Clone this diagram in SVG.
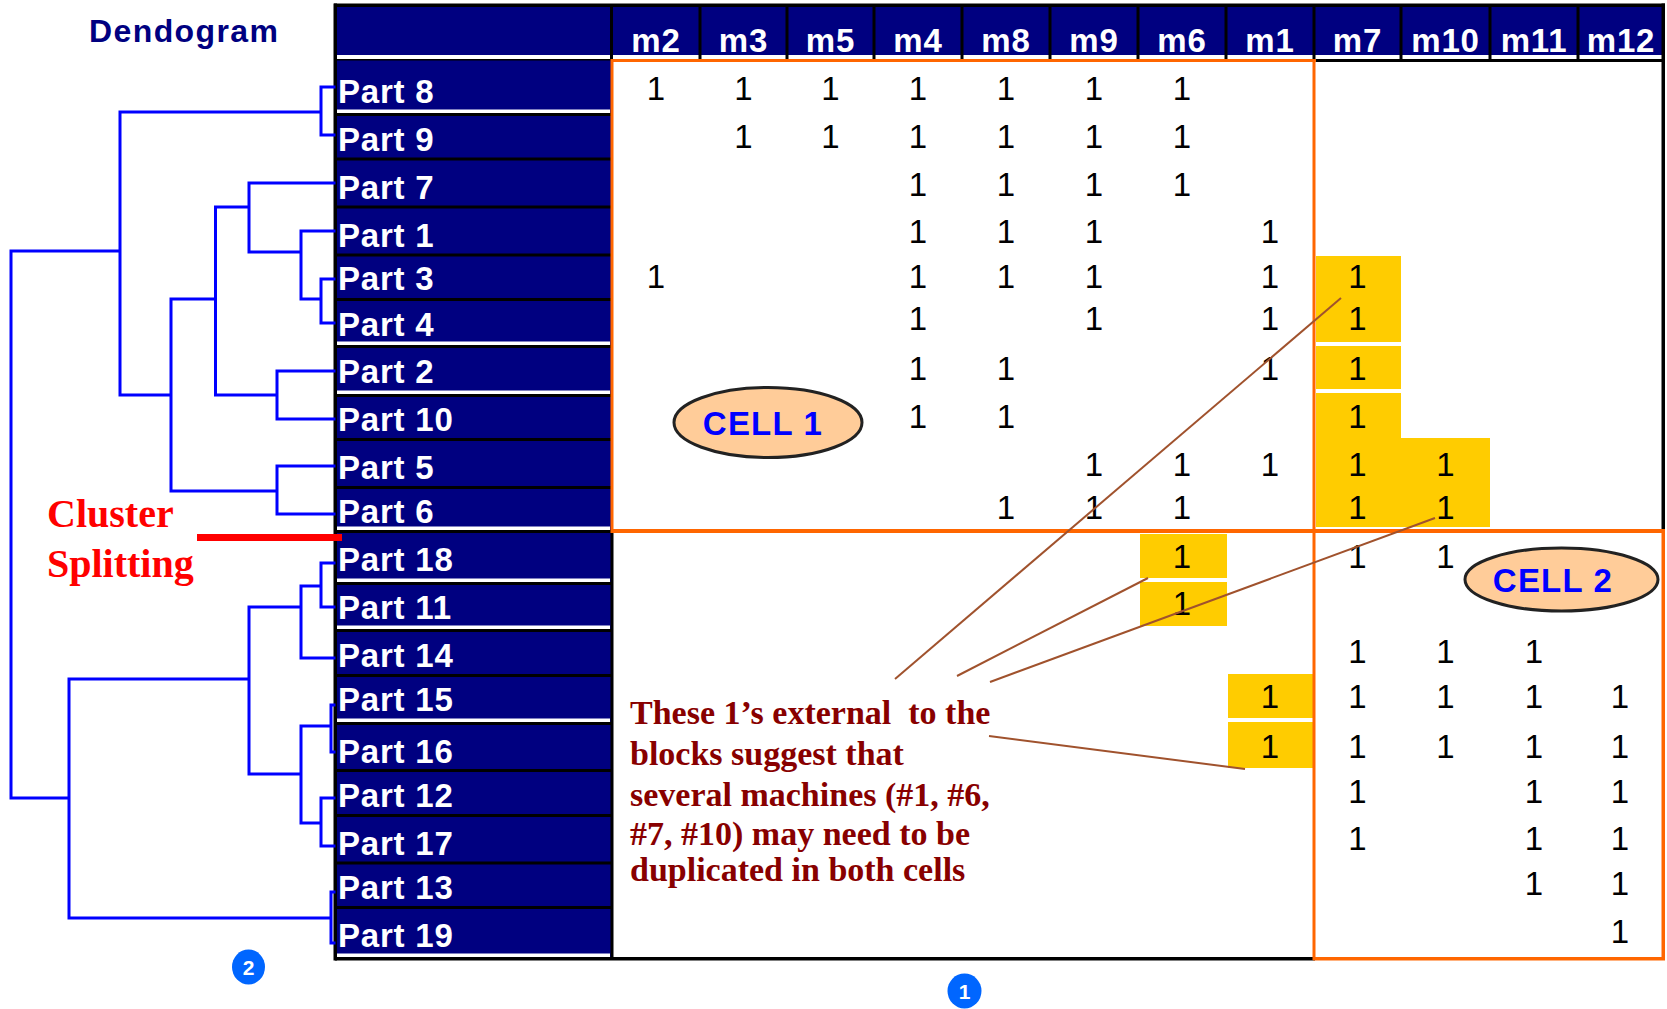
<svg xmlns="http://www.w3.org/2000/svg" width="1667" height="1009" viewBox="0 0 1667 1009">
<defs>
<style>
.navy{fill:#000080}
.lbl{font-family:"Liberation Sans",Arial,sans-serif;font-weight:bold;font-size:33px;fill:#fff;letter-spacing:0.8px}
.hd{font-family:"Liberation Sans",Arial,sans-serif;font-weight:bold;font-size:33px;fill:#fff;letter-spacing:0.8px;text-anchor:middle}
.one{font-family:"Liberation Sans",Arial,sans-serif;font-size:33px;fill:#000;text-anchor:middle}
.blk{fill:#000}
.wht{fill:#fff}
.yel{fill:#FFCC00}
.org{fill:#FF6600}
.dend{stroke:#0000FF;stroke-width:3;fill:none;stroke-linecap:square}
.note{font-family:"Liberation Serif","Times New Roman",serif;font-weight:bold;font-size:34px;fill:#880000;white-space:pre}
.leader{stroke:#A0522D;stroke-width:2;fill:none}
.cell{fill:#FFCC99;stroke:#222;stroke-width:3}
.celltxt{font-family:"Liberation Sans",Arial,sans-serif;font-weight:bold;font-size:33px;fill:#0000FF;letter-spacing:1.2px;text-anchor:middle}
.badge{fill:#0066FF}
.badgetxt{font-family:"Liberation Sans",Arial,sans-serif;font-weight:bold;font-size:21px;fill:#fff;text-anchor:middle}
</style>
</defs>
<rect x="0" y="0" width="1667" height="1009" fill="#fff"/>

<g id="title">
<text x="89" y="41.5" font-family="Liberation Sans, Arial, sans-serif" font-weight="bold" font-size="32" fill="#000080" letter-spacing="1.4">Dendogram</text>
</g>

<g id="header">
<rect class="navy" x="335" y="5" width="1329" height="55"/>
<rect class="wht" x="337" y="55" width="1325" height="4"/>
<rect class="blk" x="334" y="3.5" width="1331" height="3.5"/>
<rect class="blk" x="335" y="59" width="278" height="3"/>
<rect class="blk" x="1314" y="59" width="350" height="3"/>
<rect class="blk" x="610" y="5" width="3" height="55"/>
<rect class="blk" x="698.5" y="5" width="3" height="57"/>
<rect class="blk" x="785.5" y="5" width="3" height="57"/>
<rect class="blk" x="872.5" y="5" width="3" height="57"/>
<rect class="blk" x="960.5" y="5" width="3" height="57"/>
<rect class="blk" x="1048.5" y="5" width="3" height="57"/>
<rect class="blk" x="1136.5" y="5" width="3" height="57"/>
<rect class="blk" x="1224.5" y="5" width="3" height="57"/>
<rect class="blk" x="1312.5" y="5" width="3" height="57"/>
<rect class="blk" x="1399.5" y="5" width="3" height="57"/>
<rect class="blk" x="1488.5" y="5" width="3" height="57"/>
<rect class="blk" x="1576.5" y="5" width="3" height="57"/>
<text class="hd" x="656" y="51.5">m2</text>
<text class="hd" x="743.5" y="51.5">m3</text>
<text class="hd" x="830.5" y="51.5">m5</text>
<text class="hd" x="918" y="51.5">m4</text>
<text class="hd" x="1006" y="51.5">m8</text>
<text class="hd" x="1094" y="51.5">m9</text>
<text class="hd" x="1182" y="51.5">m6</text>
<text class="hd" x="1270" y="51.5">m1</text>
<text class="hd" x="1357.5" y="51.5">m7</text>
<text class="hd" x="1445.5" y="51.5">m10</text>
<text class="hd" x="1534" y="51.5">m11</text>
<text class="hd" x="1621" y="51.5">m12</text>
</g>

<g id="part-rows">
<g id="part8"><rect class="navy" x="335" y="60.5" width="277" height="54"/><text class="lbl" x="338" y="102.7">Part 8</text></g>
<g id="part9"><rect class="navy" x="335" y="114.5" width="277" height="44.5"/><text class="lbl" x="338" y="150.7">Part 9</text></g>
<g id="part7"><rect class="navy" x="335" y="159" width="277" height="48"/><text class="lbl" x="338" y="199">Part 7</text></g>
<g id="part1"><rect class="navy" x="335" y="207" width="277" height="48"/><text class="lbl" x="338" y="246.7">Part 1</text></g>
<g id="part3"><rect class="navy" x="335" y="255" width="277" height="44.5"/><text class="lbl" x="338" y="290">Part 3</text></g>
<g id="part4"><rect class="navy" x="335" y="299.5" width="277" height="47"/><text class="lbl" x="338" y="335.7">Part 4</text></g>
<g id="part2"><rect class="navy" x="335" y="346.5" width="277" height="49"/><text class="lbl" x="338" y="382.7">Part 2</text></g>
<g id="part10"><rect class="navy" x="335" y="395.5" width="277" height="44"/><text class="lbl" x="338" y="430.7">Part 10</text></g>
<g id="part5"><rect class="navy" x="335" y="439.5" width="277" height="48"/><text class="lbl" x="338" y="479">Part 5</text></g>
<g id="part6"><rect class="navy" x="335" y="487.5" width="277" height="44"/><text class="lbl" x="338" y="523.3">Part 6</text></g>
<g id="part18"><rect class="navy" x="335" y="531.5" width="277" height="52"/><text class="lbl" x="338" y="571">Part 18</text></g>
<g id="part11"><rect class="navy" x="335" y="583.5" width="277" height="47"/><text class="lbl" x="338" y="619">Part 11</text></g>
<g id="part14"><rect class="navy" x="335" y="630.5" width="277" height="45"/><text class="lbl" x="338" y="666.7">Part 14</text></g>
<g id="part15"><rect class="navy" x="335" y="675.5" width="277" height="48"/><text class="lbl" x="338" y="711">Part 15</text></g>
<g id="part16"><rect class="navy" x="335" y="723.5" width="277" height="47"/><text class="lbl" x="338" y="763.3">Part 16</text></g>
<g id="part12"><rect class="navy" x="335" y="770.5" width="277" height="45"/><text class="lbl" x="338" y="806.7">Part 12</text></g>
<g id="part17"><rect class="navy" x="335" y="815.5" width="277" height="47.5"/><text class="lbl" x="338" y="855">Part 17</text></g>
<g id="part13"><rect class="navy" x="335" y="863" width="277" height="44.5"/><text class="lbl" x="338" y="899">Part 13</text></g>
<g id="part19"><rect class="navy" x="335" y="907.5" width="277" height="51"/><text class="lbl" x="338" y="947.3">Part 19</text></g>
</g>

<g id="row-separators">
<rect class="wht" x="337" y="109.5" width="273" height="3.5"/><rect class="blk" x="335" y="113" width="277" height="3"/>
<rect class="blk" x="335" y="157.5" width="277" height="3"/>
<rect class="blk" x="335" y="205.5" width="277" height="3"/>
<rect class="blk" x="335" y="253.5" width="277" height="3"/>
<rect class="blk" x="335" y="298" width="277" height="3"/>
<rect class="wht" x="337" y="341.5" width="273" height="3.5"/><rect class="blk" x="335" y="345" width="277" height="3"/>
<rect class="wht" x="337" y="390.5" width="273" height="3.5"/><rect class="blk" x="335" y="394" width="277" height="3"/>
<rect class="blk" x="335" y="438" width="277" height="3"/>
<rect class="blk" x="335" y="486" width="277" height="3"/>
<rect class="wht" x="337" y="526.5" width="273" height="3.5"/><rect class="blk" x="335" y="530" width="277" height="3"/>
<rect class="wht" x="337" y="578.5" width="273" height="3.5"/><rect class="blk" x="335" y="582" width="277" height="3"/>
<rect class="wht" x="337" y="625.5" width="273" height="3.5"/><rect class="blk" x="335" y="629" width="277" height="3"/>
<rect class="blk" x="335" y="674" width="277" height="3"/>
<rect class="wht" x="337" y="718.5" width="273" height="3.5"/><rect class="blk" x="335" y="722" width="277" height="3"/>
<rect class="blk" x="335" y="769" width="277" height="3"/>
<rect class="blk" x="335" y="814" width="277" height="3"/>
<rect class="blk" x="335" y="861.5" width="277" height="3"/>
<rect class="blk" x="335" y="906" width="277" height="3"/>
<rect class="wht" x="337" y="953.5" width="273" height="3.5"/>
<rect class="blk" x="333.5" y="3.5" width="3.5" height="957"/>
<rect class="blk" x="335" y="957" width="980" height="3.5"/>
<rect class="blk" x="610.5" y="531" width="3" height="428"/>
<rect class="blk" x="1661.5" y="3.5" width="3.5" height="528"/>
</g>

<g id="highlights">
<rect class="yel" x="1316" y="256" width="85" height="86"/>
<rect class="yel" x="1316" y="346" width="85" height="43"/>
<rect class="yel" x="1316" y="393" width="85" height="134"/>
<rect class="yel" x="1401" y="438" width="89" height="89"/>
<rect class="yel" x="1140" y="534" width="87" height="44"/>
<rect class="yel" x="1140" y="582" width="87" height="44"/>
<rect class="yel" x="1228" y="674" width="86" height="44"/>
<rect class="yel" x="1228" y="722" width="86" height="46"/>
</g>

<g id="matrix">
<text class="one" x="656" y="100">1</text><text class="one" x="743.5" y="100">1</text><text class="one" x="830.5" y="100">1</text><text class="one" x="918" y="100">1</text><text class="one" x="1006" y="100">1</text><text class="one" x="1094" y="100">1</text><text class="one" x="1182" y="100">1</text>
<text class="one" x="743.5" y="148">1</text><text class="one" x="830.5" y="148">1</text><text class="one" x="918" y="148">1</text><text class="one" x="1006" y="148">1</text><text class="one" x="1094" y="148">1</text><text class="one" x="1182" y="148">1</text>
<text class="one" x="918" y="196">1</text><text class="one" x="1006" y="196">1</text><text class="one" x="1094" y="196">1</text><text class="one" x="1182" y="196">1</text>
<text class="one" x="918" y="243">1</text><text class="one" x="1006" y="243">1</text><text class="one" x="1094" y="243">1</text><text class="one" x="1270" y="243">1</text>
<text class="one" x="656" y="288">1</text><text class="one" x="918" y="288">1</text><text class="one" x="1006" y="288">1</text><text class="one" x="1094" y="288">1</text><text class="one" x="1270" y="288">1</text><text class="one" x="1357.5" y="288">1</text>
<text class="one" x="918" y="330">1</text><text class="one" x="1094" y="330">1</text><text class="one" x="1270" y="330">1</text><text class="one" x="1357.5" y="330">1</text>
<text class="one" x="918" y="380">1</text><text class="one" x="1006" y="380">1</text><text class="one" x="1270" y="380">1</text><text class="one" x="1357.5" y="380">1</text>
<text class="one" x="918" y="428">1</text><text class="one" x="1006" y="428">1</text><text class="one" x="1357.5" y="428">1</text>
<text class="one" x="1094" y="476">1</text><text class="one" x="1182" y="476">1</text><text class="one" x="1270" y="476">1</text><text class="one" x="1357.5" y="476">1</text><text class="one" x="1445.5" y="476">1</text>
<text class="one" x="1006" y="519">1</text><text class="one" x="1094" y="519">1</text><text class="one" x="1182" y="519">1</text><text class="one" x="1357.5" y="519">1</text><text class="one" x="1445.5" y="519">1</text>
<text class="one" x="1182" y="568">1</text><text class="one" x="1357.5" y="568">1</text><text class="one" x="1445.5" y="568">1</text>
<text class="one" x="1182" y="615">1</text>
<text class="one" x="1357.5" y="663">1</text><text class="one" x="1445.5" y="663">1</text><text class="one" x="1534" y="663">1</text>
<text class="one" x="1270" y="708">1</text><text class="one" x="1357.5" y="708">1</text><text class="one" x="1445.5" y="708">1</text><text class="one" x="1534" y="708">1</text><text class="one" x="1620" y="708">1</text>
<text class="one" x="1270" y="758">1</text><text class="one" x="1357.5" y="758">1</text><text class="one" x="1445.5" y="758">1</text><text class="one" x="1534" y="758">1</text><text class="one" x="1620" y="758">1</text>
<text class="one" x="1357.5" y="803">1</text><text class="one" x="1534" y="803">1</text><text class="one" x="1620" y="803">1</text>
<text class="one" x="1357.5" y="850">1</text><text class="one" x="1534" y="850">1</text><text class="one" x="1620" y="850">1</text>
<text class="one" x="1534" y="895">1</text><text class="one" x="1620" y="895">1</text>
<text class="one" x="1620" y="943">1</text>
</g>

<g id="cell-blocks">
<rect class="org" x="611" y="59" width="705" height="3"/>
<rect class="org" x="610.5" y="59" width="3" height="474"/>
<rect class="org" x="611" y="529" width="1054" height="4"/>
<rect class="org" x="1312.5" y="59" width="3" height="901"/>
<rect class="org" x="1661.5" y="529" width="3.5" height="431"/>
<rect class="org" x="1313" y="957" width="352" height="3.5"/>
</g>

<g id="cell1">
<ellipse class="cell" cx="768" cy="422.5" rx="94" ry="35"/>
<text class="celltxt" x="763" y="435">CELL 1</text>
</g>
<g id="cell2">
<ellipse class="cell" cx="1561.5" cy="579.5" rx="96.5" ry="31.5"/>
<text class="celltxt" x="1553" y="591.5">CELL 2</text>
</g>

<g id="cluster-label">
<text x="47" y="526.5" font-family="Liberation Serif, Times New Roman, serif" font-weight="bold" font-size="40" fill="#FF0000">Cluster</text>
<text x="47" y="576.5" font-family="Liberation Serif, Times New Roman, serif" font-weight="bold" font-size="40" fill="#FF0000">Splitting</text>
</g>

<g id="note">
<text class="note" x="630" y="724">These 1’s external  to the</text>
<text class="note" x="630" y="765">blocks suggest that</text>
<text class="note" x="630" y="806">several machines (#1, #6,</text>
<text class="note" x="630" y="845">#7, #10) may need to be</text>
<text class="note" x="630" y="881">duplicated in both cells</text>
</g>

<g id="badge2">
<ellipse class="badge" cx="248.5" cy="967" rx="16.5" ry="17.5"/>
<text class="badgetxt" x="248.5" y="975">2</text>
</g>
<g id="badge1">
<ellipse class="badge" cx="964.5" cy="991" rx="17" ry="17.5"/>
<text class="badgetxt" x="964.5" y="999">1</text>
</g>

<g id="connectors">
<path class="dend" d="M334,87 H321 V135 H334 M321,112 H120 V395 H171 M120,251 H11 V798 H69 M334,183 H249 V252 H301 M249,207 H215.5 V395 H277 M334,231 H301 V299 H321 M334,279 H321 V323 H334 M171,299 H215.5 M171,299 V491 H277 M334,371 H277 V419 H334 M334,466 H277 V514 H334 M334,563 H321 V607 H334 M321,586 H301 V658 H334 M301,607 H249 V774 H301 M249,679 H69 V918 H331 M334,705 H331 V752 H334 M301,726 H331 M301,726 V823 H321 M334,798 H321 V846 H334 M334,892 H331 V943 H334"/>
<line x1="197" y1="537.5" x2="342" y2="537.5" stroke="#FF0000" stroke-width="7"/>
<line class="leader" x1="895" y1="679" x2="1341" y2="298"/>
<line class="leader" x1="957" y1="676" x2="1148" y2="578"/>
<line class="leader" x1="990" y1="682" x2="1435" y2="518"/>
<line class="leader" x1="989" y1="736" x2="1245" y2="769" stroke-width="3"/>
</g>
</svg>
